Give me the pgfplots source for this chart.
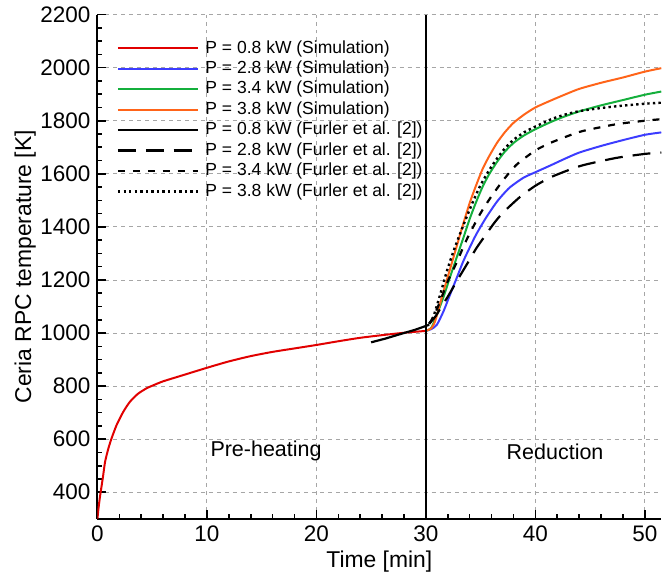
\documentclass[border={4pt 0pt 0pt 0pt}]{standalone}
\usepackage{fontspec}
\setmainfont{Liberation Sans}
\usepackage{pgfplots}
\pgfplotsset{compat=1.18}
\definecolor{cred}{RGB}{225,0,0}
\definecolor{cblue}{RGB}{60,60,255}
\definecolor{cgreen}{RGB}{20,175,60}
\definecolor{corange}{RGB}{255,100,25}
\begin{document}
\begin{tikzpicture}
\begin{axis}[
  scale only axis,
  width=283.5pt, height=253.5pt,
  xmin=0, xmax=51.5, ymin=300, ymax=2200,
  axis x line=bottom, axis y line=left,
  axis line style={-, line width=1pt},
  xtick={0,10,...,50}, ytick={400,600,...,2200},
  minor x tick num=4, minor y tick num=3,
  tick align=inside,
  major tick length=4.5pt, minor tick length=2.5pt,
  every tick/.style={black, line width=0.8pt},
  grid=major,
  major grid style={gray!70, dash pattern=on 2pt off 2pt, line width=0.45pt},
  tick label style={font=\fontsize{11.3}{13}\selectfont},
  /pgf/number format/assume math mode=true,
  /pgf/number format/1000 sep={},
  label style={font=\fontsize{11.5}{13}\selectfont},
  xlabel={Time [min]}, ylabel={Ceria RPC temperature [K]},
  ylabel style={at={(axis description cs:-0.128,0.5)}, anchor=center, rotate=0},
  xlabel style={at={(axis description cs:0.5,-0.085)}, anchor=center},
  legend cell align=left,
  legend style={at={(axis description cs:0.023,0.961)}, anchor=north west,
    draw=none, fill=none, font=\fontsize{8.8}{10}\selectfont,
    row sep=0.6pt, nodes={inner sep=0.9pt}},
  legend image code/.code={\draw[#1] (0pt,0pt) -- (40pt,0pt); \path (42.5pt,0pt);},
]
\addplot[cred, line width=1pt, smooth, tension=0.4] coordinates {
(0,300) (0.1,340) (0.24,385) (0.5,456) (0.7,515) (1.0,565) (1.3,604) (1.76,654)
(2.36,703) (2.97,741) (3.7,771) (4.5,792) (5.1,803) (6.0,818) (7.8,841) (10,869)
(12,893) (14,913) (16,929) (18,942) (20,955) (22,969) (24,982) (26,992) (28,1001) (30,1008)};
\addlegendentry{P = 0.8 kW (Simulation)}
\addplot[cblue, line width=1pt, smooth, tension=0.4] coordinates {
(30,1008) (30.5,1015) (31.0,1031) (31.6,1081) (32.2,1144) (32.8,1206) (33.4,1269)
(34.0,1322) (34.6,1372) (35.5,1435) (36.4,1490) (37.0,1520) (37.7,1550) (38.9,1585)
(40,1606) (41.4,1632) (42.6,1655) (44,1680) (46,1705) (48,1727) (50,1747) (51.5,1756)};
\addlegendentry{P = 2.8 kW (Simulation)}
\addplot[cgreen, line width=1pt, smooth, tension=0.4] coordinates {
(30,1008) (30.5,1020) (31.0,1069) (31.6,1135) (32.2,1210) (32.8,1283) (33.4,1356)
(34.0,1430) (34.6,1495) (35.2,1553) (35.8,1600) (36.5,1645) (37.2,1683) (38.0,1716)
(38.9,1743) (40,1768) (41.4,1795) (42.6,1815) (44,1835) (46,1858) (48,1878) (50,1898) (51.5,1910)};
\addlegendentry{P = 3.4 kW (Simulation)}
\addplot[corange, line width=1pt, smooth, tension=0.4] coordinates {
(30,1008) (30.5,1018) (30.8,1040) (31.1,1081) (31.6,1156) (32.2,1240) (32.8,1325)
(33.4,1410) (34.0,1490) (34.6,1558) (35.2,1620) (35.8,1668) (36.5,1717) (37.2,1756)
(38.0,1792) (39.0,1824) (40,1850) (41.4,1876) (42.6,1897) (44,1920) (46,1943)
(48,1963) (50,1985) (51.5,1998)};
\addlegendentry{P = 3.8 kW (Simulation)}
\addplot[black, line width=1.1pt] coordinates {
(25.0,965) (26.3,979) (27.5,994) (29.0,1012) (30.3,1031)};
\addlegendentry{P = 0.8 kW (Furler et al. [2])}
\addplot[black, line width=1.1pt, dash pattern=on 9pt off 5pt, smooth, tension=0.4] coordinates {
(30.3,1035) (30.9,1064) (31.5,1105) (32.0,1137) (32.8,1194) (33.7,1256) (34.6,1319)
(35.5,1372) (36.3,1418) (37.1,1456) (38.6,1513) (40,1555) (41.4,1587) (42.9,1612)
(44.4,1633) (47.4,1660) (50,1675) (51.5,1680)};
\addlegendentry{P = 2.8 kW (Furler et al. [2])}
\addplot[black, line width=1.1pt, dash pattern=on 3.5pt off 4pt, smooth, tension=0.4] coordinates {
(30.3,1035) (30.8,1070) (31.4,1130) (32.0,1195) (32.8,1265) (33.7,1350) (34.9,1445)
(35.9,1510) (37.1,1578) (38.3,1635) (40,1688) (41.4,1717) (43.2,1746) (44.4,1762)
(47.4,1787) (50,1800) (51.5,1806)};
\addlegendentry{P = 3.4 kW (Furler et al. [2])}
\addplot[black, line width=1.2pt, dash pattern=on 1.2pt off 1.6pt, smooth, tension=0.4] coordinates {
(30.3,1035) (30.67,1060) (31.3,1144) (31.9,1231) (32.5,1306) (33.1,1372) (33.7,1435)
(34.3,1495) (35.0,1558) (35.8,1615) (36.5,1658) (37.2,1695) (38.0,1728) (39.0,1757)
(40,1778) (41.4,1805) (42.6,1822) (44,1836) (46,1848) (48,1857) (50,1864) (51.5,1868)};
\addlegendentry{P = 3.8 kW (Furler et al. [2])}
\addplot[black, line width=0.8pt, forget plot] coordinates {(30,300) (30,2200)};
\node[font=\fontsize{10.8}{12}\selectfont] at (axis cs:15.4,554) {Pre-heating};
\node[font=\fontsize{10.8}{12}\selectfont] at (axis cs:41.8,554) {Reduction};
\end{axis}
\end{tikzpicture}
\end{document}
